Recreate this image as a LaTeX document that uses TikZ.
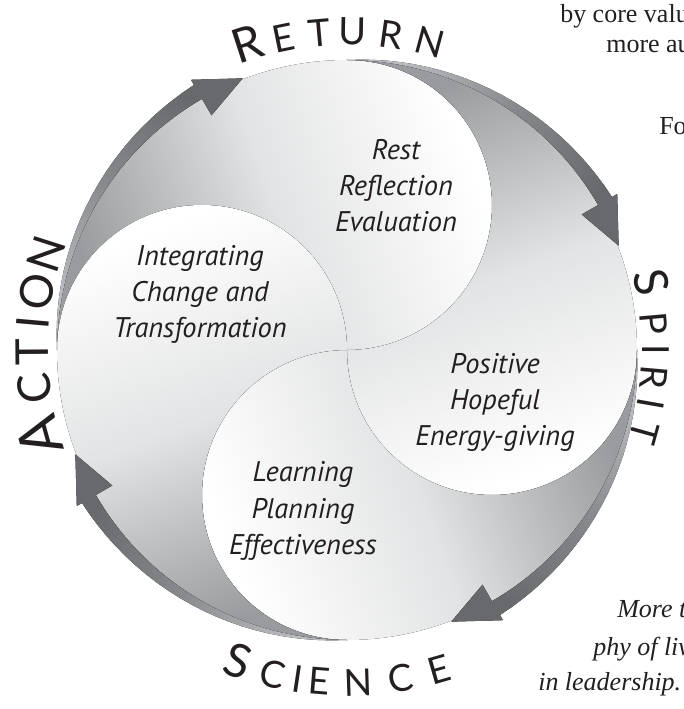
\documentclass[tikz,border=0pt]{standalone}
\usepackage{fontspec}
\setmainfont{Liberation Serif}
\newfontfamily\lobefont{PT Sans}
\newfontfamily\capsfont{Lato}
\definecolor{tailgray}{HTML}{9A9B9E}
\definecolor{lobemid}{HTML}{E2E3E4}
\definecolor{headwhite}{HTML}{FFFFFF}
\definecolor{arrowdark}{HTML}{68696C}
\definecolor{arrowmid}{HTML}{88898C}
\definecolor{arrowlight}{HTML}{BBBCBF}
\definecolor{ink}{HTML}{231F20}
\tikzset{
  lobe/.style={bottom color=tailgray, top color=headwhite, middle color=lobemid},
  ringarrow/.style={bottom color=arrowlight, top color=arrowdark, middle color=arrowmid},
  lobetext/.style={font=\lobefont\itshape\fontsize{21.3}{25}\selectfont, text=ink, inner sep=0pt, anchor=base},
  pagetext/.style={font=\fontsize{19.5}{23}\selectfont, text=ink, inner sep=0pt, anchor=base west},
  capletter/.style={text=ink, inner sep=0pt, anchor=base},
  retbig/.style={font=\capsfont\fontsize{35.6}{36}\selectfont},
  retsmall/.style={font=\capsfont\fontsize{28.3}{29}\selectfont},
  spbig/.style={font=\capsfont\fontsize{35}{35}\selectfont},
  spsmall/.style={font=\capsfont\fontsize{28}{28}\selectfont},
  scbig/.style={font=\capsfont\fontsize{35}{35}\selectfont},
  scsmall/.style={font=\capsfont\fontsize{28}{28}\selectfont},
  acbig/.style={font=\capsfont\fontsize{43}{43}\selectfont},
  acsmall/.style={font=\capsfont\fontsize{34}{34}\selectfont}
}
\begin{document}
\begin{tikzpicture}[x=0.75pt,y=0.75pt]
\useasboundingbox (-347,-359) rectangle (337,350);

% four lobes, each a head and a tail
\foreach \k in {0,...,3}
  \fill[lobe, shading angle=-70-90*\k] (0,0)
    arc[start angle=-90-90*\k, end angle=90-90*\k, radius=145]
    arc[start angle=90-90*\k, end angle=180-90*\k, radius=290]
    arc[start angle=180-90*\k, end angle=-90*\k, radius=145] -- cycle;

% arrows round the ring
\foreach \k [evaluate=\k as \ta using 90*\k,
             evaluate=\k as \tb using 90*\k-60,
             evaluate=\k as \tp using 90*\k-69,
             evaluate=\k as \sa using 90*\k-214.5] in {0,...,3}
  \fill[ringarrow, shading angle=\sa] (\ta:290)
    arc[start angle=\ta, end angle=\tb, radius=290]
    -- (\tb:271) -- (\tp:291) -- (\tb:312) -- (\tb:306)
    -- plot[domain=\tb:\ta, samples=24] (\x:{306-16*(\x-\tb)/60}) -- cycle;

% texts in the lobes
\foreach \line [count=\i] in {Rest,Reflection,Evaluation}
  \node[lobetext] (rest\i) at (49,{226-36*\i}) {\line};
\foreach \line [count=\i] in {Integrating,Change and,Transformation}
  \node[lobetext] (integ\i) at (-147,{120-36*\i}) {\line};
\foreach \line [count=\i] in {Positive,Hopeful,Energy-giving}
  \node[lobetext] (posit\i) at (148,{12-36*\i}) {\line};
\foreach \line [count=\i] in {Learning,Planning,Effectiveness}
  \node[lobetext] (learn\i) at (-44,{-96-36*\i}) {\line};

% words round the ring
\foreach \ch/\ang/\st [count=\i] in {R/108/retbig,E/101.5/retsmall,T/95/retsmall,U/89/retsmall,R/82/retsmall,N/75/retsmall}
  \node[capletter, \st, rotate=\ang-90] (return\i) at (\ang:305) {\ch};
\foreach \ch/\ang/\st [count=\i] in {S/12.5/spbig,P/5/spsmall,I/0/spsmall,R/-5/spsmall,I/-10/spsmall,T/-15.5/spsmall}
  \node[capletter, \st, rotate=\ang-90] (spirit\i) at (\ang:295) {\ch};
\foreach \ch/\ang/\st [count=\i] in {S/-109.3/scbig,C/-103/scsmall,I/-98.5/scsmall,E/-94.7/scsmall,N/-88.1/scsmall,C/-80.7/scsmall,E/-74/scsmall}
  \node[capletter, \st, rotate=\ang+90] (science\i) at (\ang:346) {\ch};
\foreach \ch/\ang/\st [count=\i] in {A/195.6/acbig,C/187/acsmall,T/180.4/acsmall,I/175/acsmall,O/169.4/acsmall,N/162.3/acsmall}
  \node[capletter, \st, rotate=\ang-90] (action\i) at (\ang:299) {\ch};

% page text cut by the edge
\node[pagetext] (page1) at (213,327) {by core valu};
\node[pagetext] (page2) at (259,297) {more au};
\node[pagetext] (page3) at (312,215) {Fo};
\node[pagetext, font=\itshape\fontsize{19.5}{23}\selectfont] (page4) at (270,-267) {More t};
\node[pagetext, font=\itshape\fontsize{19.5}{23}\selectfont] (page5) at (246,-305) {phy of liv};
\node[pagetext, font=\itshape\fontsize{19.5}{23}\selectfont] (page6) at (191,-340) {in leadership. I};
\end{tikzpicture}
\end{document}
